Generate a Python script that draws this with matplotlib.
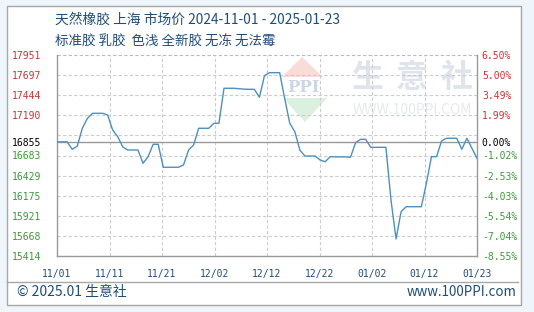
import matplotlib
matplotlib.use("Agg")
from matplotlib import pyplot as plt
from matplotlib.patches import Rectangle, Polygon
import numpy as np

plt.rcParams['font.family'] = ['Noto Sans CJK SC', 'DejaVu Sans']

# data: one value per calendar day, 2024-11-01 .. 2025-01-23
prices = [16855, 16855, 16855, 16761, 16800, 17026, 17150, 17215, 17215, 17215,
          17194, 17004, 16920, 16790, 16752, 16752, 16752, 16584, 16668, 16824,
          16824, 16534, 16534, 16534, 16534, 16563, 16752, 16815, 17026, 17026,
          17026, 17089, 17089, 17531, 17531, 17531, 17525, 17520, 17518, 17518,
          17417, 17690, 17728, 17728, 17728, 17400, 17089, 16983, 16750, 16676,
          16676, 16676, 16626, 16604, 16668, 16665, 16665, 16665, 16660, 16844,
          16887, 16887, 16786, 16786, 16786, 16786, 16121, 15629, 15973, 16036,
          16036, 16036, 16036, 16332, 16668, 16668, 16866, 16900, 16900, 16900,
          16761, 16900, 16774, 16647]
date_labels = ['11/01', '11/11', '11/21', '12/02', '12/12', '12/22', '01/02', '01/12', '01/23']
base = 16855
y_labels = [17951, 17697, 17444, 17190, 16855, 16683, 16429, 16175, 15921, 15668, 15414]
y_grid = np.linspace(15414, 17951, 11)

title = '天然橡胶 上海 市场价 2024-11-01 - 2025-01-23'
subtitle = '标准胶 乳胶  色浅 全新胶 无冻 无法霉'

W, H = 534, 312
def fx(x): return x / W
def fy(y): return 1 - y / H

fig = plt.figure(figsize=(W / 100, H / 100), dpi=100)
fig.patch.set_facecolor('#eef5fb')
# white panel
fig.patches.append(Rectangle((fx(7), fy(305)), fx(521) - fx(7), fy(6) - fy(305),
                             transform=fig.transFigure, facecolor='white',
                             edgecolor='#a8a8a8', lw=1.0, zorder=-2))
fig.add_artist(plt.Line2D([fx(7), fx(518)], [fy(281.5), fy(281.5)],
                          transform=fig.transFigure, color='#a8a8a8', lw=1.0, zorder=-1))

navy = '#1f4d78'
red = '#cc3333'
green = '#3a9a3a'

fig.text(fx(55), fy(20), title, fontsize=9.9, color=navy, va='center', ha='left')
fig.text(fx(55), fy(42), subtitle, fontsize=9.7, color=navy, va='center', ha='left')
fig.text(fx(17), fy(292), '© 2025.01 生意社', fontsize=10, color=navy, va='center', ha='left')
fig.text(fx(517), fy(292), 'www.100PPI.com', fontsize=9.6, color=navy, va='center', ha='right')

# watermark
wm = '#dfe4ec'
for ch, cx in zip('生意社', [367, 412, 457]):
    fig.text(fx(cx), fy(78), ch, fontsize=23, color=wm, ha='center', va='center',
             fontweight='bold', zorder=-1)
fig.text(fx(412), fy(110), 'WWW.100PPI.COM', fontsize=10, color='#e6e9ef',
         ha='center', va='center', zorder=-1)
fig.patches.append(Polygon([(fx(282), fy(77)), (fx(323), fy(77)), (fx(302), fy(57))],
                           closed=True, transform=fig.transFigure,
                           facecolor='#f8dcd6', edgecolor='none', zorder=-1))
fig.patches.append(Polygon([(fx(283), fy(98)), (fx(327), fy(98)), (fx(305), fy(122))],
                           closed=True, transform=fig.transFigure,
                           facecolor='#dcf0e0', edgecolor='none', zorder=-1))
fig.text(fx(303), fy(88), 'PPI', fontsize=12, color='#ccd6e7', ha='center', va='center',
         fontweight='bold', family='DejaVu Serif', zorder=-1)

ax = fig.add_axes([fx(57), fy(256), fx(477) - fx(57), fy(55) - fy(256)])
ax.set_facecolor('none')
ax.set_zorder(2)
x = np.arange(len(prices))
n = len(prices) - 1
ax.set_xlim(0, n)
ax.set_ylim(15414, 17951)

for g in y_grid[:-1]:
    ax.axhline(g, color='#cccccc', lw=0.8, ls=(0, (3, 2)), zorder=1)
ax.axhline(y_grid[-1], color='#bbbbbb', lw=0.8, ls=(0, (3, 2)), zorder=1, clip_on=False)
xt = np.linspace(0, n, len(date_labels))
for t in xt[1:-1]:
    ax.axvline(t, color='#cccccc', lw=0.8, ls=(0, (3, 2)), zorder=1)
ax.axhline(base, color='#999999', lw=1.0, zorder=2)

ax.plot(x, prices, color='#4d90bd', lw=1.0, zorder=3)

for s in ['left', 'right', 'bottom']:
    ax.spines[s].set_color('#999999')
    ax.spines[s].set_linewidth(1.0)
ax.spines['top'].set_visible(False)

mono = 'DejaVu Sans Mono'
ax.set_xticks(xt)
ax.set_xticklabels(date_labels, fontsize=7, color=navy, family=mono)
ax.tick_params(axis='x', length=0, pad=9)

ax.set_yticks(y_labels)
ax.set_yticklabels([str(v) for v in y_labels], fontsize=7, family=mono)
ax.tick_params(axis='y', length=0, pad=11.5)
for lab, v in zip(ax.get_yticklabels(), y_labels):
    lab.set_color(red if v > base else ('black' if v == base else green))

ax2 = ax.twinx()
ax2.set_zorder(3)
ax2.set_ylim(ax.get_ylim())
ax2.set_yticks(y_labels)
ax2.set_yticklabels(['%.2f%%' % ((v / base - 1) * 100 + 0.0) for v in y_labels],
                    fontsize=7, family=mono)
ax2.tick_params(axis='y', length=0, pad=3.5)
for lab, v in zip(ax2.get_yticklabels(), y_labels):
    lab.set_color(red if v > base else ('black' if v == base else green))
for s in ax2.spines.values():
    s.set_visible(False)

fig.savefig('out.png', dpi=100, facecolor=fig.get_facecolor())
